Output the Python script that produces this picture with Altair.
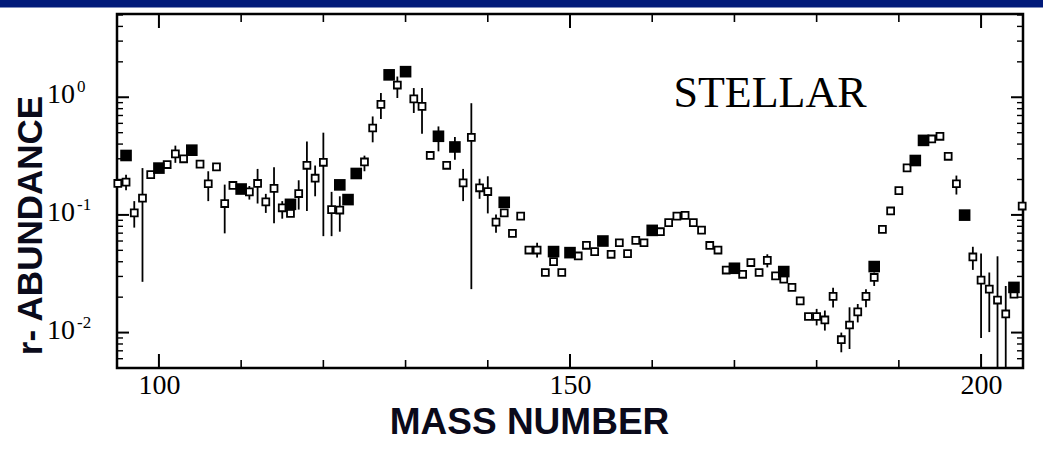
import altair as alt
import pandas as pd

# ---- data ----
open_mass = [95, 96, 97, 98, 99, 101, 102, 103, 105, 106, 107, 108, 109, 111, 112, 113,
             114, 115, 116, 117, 118, 119, 120, 121, 122, 125, 126, 127, 129, 131, 132,
             133, 135, 137, 138, 139, 140, 141, 142, 143, 144, 145, 146, 147, 148, 149,
             151, 152, 153, 155, 156, 157, 158, 159, 161, 162, 163, 164, 165, 166, 167,
             168, 169, 171, 172, 173, 174, 175, 176, 177, 178, 179, 180, 181, 182, 183,
             184, 185, 186, 187, 188, 189, 190, 191, 194, 195, 196, 197, 199, 200, 201,
             202, 203, 204, 205]
open_abund = [0.185, 0.19, 0.104, 0.139, 0.22, 0.268, 0.33, 0.30, 0.27, 0.184, 0.256, 0.125,
              0.178, 0.157, 0.185, 0.129, 0.168, 0.115, 0.103, 0.152, 0.264, 0.205, 0.28,
              0.111, 0.11, 0.282, 0.548, 0.87, 1.27, 0.97, 0.836, 0.32, 0.264, 0.187, 0.456,
              0.17, 0.158, 0.0869, 0.104, 0.0697, 0.0977, 0.0503, 0.0503, 0.0324, 0.0401,
              0.0324, 0.0448, 0.0552, 0.0488, 0.0463, 0.058, 0.0469, 0.0608, 0.058, 0.072,
              0.0859, 0.0977, 0.099, 0.086, 0.0743, 0.055, 0.0503, 0.034, 0.0313, 0.0394,
              0.0324, 0.0411, 0.0303, 0.0284, 0.0242, 0.0186, 0.0137, 0.0137, 0.0128, 0.0203,
              0.0087, 0.0116, 0.015, 0.0203, 0.0294, 0.0754, 0.108, 0.161, 0.251, 0.442,
              0.466, 0.315, 0.184, 0.0439, 0.0279, 0.0234, 0.0189, 0.0144, 0.0212, 0.119]

filled_mass = [96, 100, 104, 110, 116, 122, 123, 124, 128, 130, 134, 136, 142, 148, 150,
               154, 160, 170, 176, 187, 192, 193, 198, 204]
filled_abund = [0.32, 0.25, 0.355, 0.166, 0.123, 0.18, 0.135, 0.225, 1.55, 1.65, 0.466,
                0.378, 0.128, 0.0488, 0.0478, 0.06, 0.0739, 0.0352, 0.033, 0.0364, 0.29,
                0.43, 0.0996, 0.0242]

err_mass = [96, 97, 98, 102, 106, 108, 111, 112, 113, 114, 115, 117, 118, 119, 120, 121,
            122, 125, 126, 127, 129, 131, 132, 134, 136, 137, 138, 139, 140, 141, 146, 174,
            180, 181, 182, 183, 184, 185, 186, 187, 197, 199, 200, 201, 202, 203]
err_lo = [0.162, 0.078, 0.027, 0.277, 0.131, 0.0697, 0.135, 0.125, 0.104, 0.0848, 0.0929,
          0.111, 0.108, 0.144, 0.066, 0.066, 0.072, 0.235, 0.414, 0.654, 0.985, 0.735, 0.49,
          0.347, 0.295, 0.131, 0.0234, 0.137, 0.103, 0.0707, 0.0434, 0.0358, 0.0115, 0.0104,
          0.0163, 0.0068, 0.00725, 0.0122, 0.0164, 0.0249, 0.149, 0.0341, 0.009, 0.0101,
          0.004, 0.004]
err_hi = [0.22, 0.131, 0.25, 0.388, 0.235, 0.181, 0.176, 0.246, 0.151, 0.254, 0.131, 0.197,
          0.42, 0.263, 0.5, 0.157, 0.144, 0.319, 0.687, 1.086, 1.5, 1.197, 1.2, 0.565, 0.46,
          0.246, 0.89, 0.203, 0.213, 0.101, 0.058, 0.0463, 0.0159, 0.0154, 0.0241, 0.010,
          0.0164, 0.0175, 0.0234, 0.0324, 0.216, 0.0536, 0.047, 0.0324, 0.0445, 0.0249]

x_major = [100, 150, 200]
x_minor = [110, 120, 130, 140, 160, 170, 180, 190]
y_major = [0.01, 0.1, 1.0]
y_exp = ["-2", "-1", "0"]
y_minor = [k * 10.0 ** n for n in (-3, -2, -1, 0) for k in range(2, 10)
           if 0.0052 < k * 10.0 ** n < 5.05]

W, H = 906, 354
SERIF = "Liberation Serif"
SANS = "Liberation Sans, Arial"
TITLE_COLOR = "#0a0a1a"

xs = alt.Scale(domain=[94.9, 205.1], nice=False, zero=False)
ys = alt.Scale(type="log", domain=[0.005, 5.1], nice=False)

open_df = pd.DataFrame({"mass": open_mass, "abund": open_abund})
filled_df = pd.DataFrame({"mass": filled_mass, "abund": filled_abund})
err_df = pd.DataFrame({"mass": err_mass, "abund": err_lo, "hi": err_hi})
xmaj_df = pd.DataFrame({"mass": x_major})
xmin_df = pd.DataFrame({"mass": x_minor})
ymaj_df = pd.DataFrame({"abund": y_major, "exp": y_exp, "base": ["10"] * 3})
ymin_df = pd.DataFrame({"abund": y_minor})

x_axis = alt.Axis(values=x_major, tickSize=0, domain=False, grid=False,
                  labelFont=SERIF, labelFontSize=28, labelPadding=3, labelColor="black",
                  title="MASS NUMBER", titleFont=SANS, titleFontSize=37,
                  titleFontWeight="bold", titleColor=TITLE_COLOR, titleX=412, titleY=65,
                  titleBaseline="alphabetic", titleAlign="center")
y_axis = alt.Axis(labels=False, ticks=False, domain=False, grid=False,
                  title="r- ABUNDANCE", titleFont=SANS, titleFontSize=35,
                  titleFontWeight="bold", titleColor=TITLE_COLOR, titleAngle=270,
                  titleX=-76, titleY=211, titleBaseline="alphabetic", titleAlign="center")

X = alt.X("mass:Q", scale=xs, axis=x_axis)
Y = alt.Y("abund:Q", scale=ys, axis=y_axis)

bar = alt.Chart(pd.DataFrame({"k": [0]})).mark_rect(color="#011a7a").encode(
    x=alt.value(-117), x2=alt.value(W + 20), y=alt.value(-14), y2=alt.value(-6.5))

errs = alt.Chart(err_df).mark_rule(color="black", strokeWidth=1.8, clip=True).encode(
    x=X, y=Y, y2="hi:Q")

opens = alt.Chart(open_df).mark_square(fill="white", stroke="black", strokeWidth=1.8,
                                       size=48, opacity=1).encode(x=X, y=Y)

filled = alt.Chart(filled_df).mark_square(color="black", size=135, opacity=1).encode(
    x=X, y=Y)

def xticks(df, length, sw):
    bot = alt.Chart(df).mark_rule(color="black", strokeWidth=sw).encode(
        x=X, y=alt.value(H), y2=alt.value(H - length))
    top = alt.Chart(df).mark_rule(color="black", strokeWidth=sw).encode(
        x=X, y=alt.value(0), y2=alt.value(length))
    return [bot, top]

def yticks(df, length, sw):
    left = alt.Chart(df).mark_rule(color="black", strokeWidth=sw).encode(
        y=Y, x=alt.value(0), x2=alt.value(length))
    right = alt.Chart(df).mark_rule(color="black", strokeWidth=sw).encode(
        y=Y, x=alt.value(W), x2=alt.value(W - length))
    return [left, right]

ylab_base = alt.Chart(ymaj_df).mark_text(font=SERIF, fontSize=28, align="left",
                                         baseline="middle", dy=-2, color="black").encode(
    y=Y, x=alt.value(-70), text="base:N")
ylab_exp = alt.Chart(ymaj_df).mark_text(font=SERIF, fontSize=17, align="left",
                                        baseline="middle", dy=-10, color="black").encode(
    y=Y, x=alt.value(-40), text="exp:N")

stellar = alt.Chart(pd.DataFrame({"t": ["STELLAR"]})).mark_text(
    font=SERIF, fontSize=44, align="center", baseline="alphabetic", color="black").encode(
    x=alt.value(653), y=alt.value(92.7), text="t:N")

layers = [bar, errs] + xticks(xmaj_df, 14, 2) + xticks(xmin_df, 8, 1.6) + \
    yticks(ymaj_df, 12, 2) + yticks(ymin_df, 6, 1.4) + \
    [opens, filled, ylab_base, ylab_exp, stellar]

chart = alt.layer(*layers).properties(
    width=W, height=H, autosize="none",
    padding={"left": 117, "top": 14, "right": 20, "bottom": 101},
    background="white",
).configure_view(stroke="black", strokeWidth=2.5)

chart.save("out.html", embed_options={"renderer": "svg", "actions": False})
